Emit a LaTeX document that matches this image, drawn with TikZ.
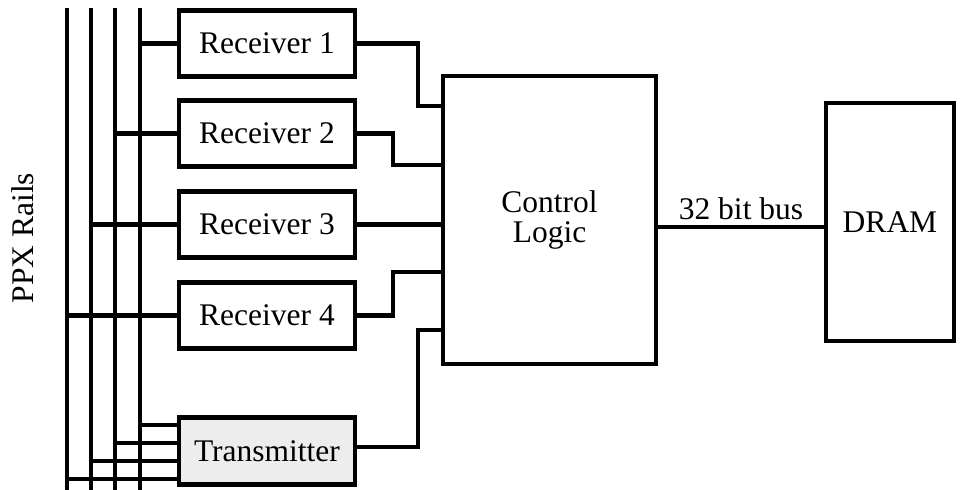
\documentclass[tikz,border=0pt]{standalone}
\usepackage{fontspec}
\setmainfont{Liberation Serif}
\begin{document}
\begin{tikzpicture}[x=1pt,y=-1pt,
  line width=4.5pt,
  lbl/.style={font=\fontsize{31.5}{31}\selectfont},
  box/.style={draw, line width=4.5pt, rectangle, inner sep=0pt, outer sep=0pt, lbl, align=center},
  wire/.style={line width=4.3pt, line cap=rect}
]
\useasboundingbox (0,0) rectangle (962,490);
% rails
\coordinate (r1) at (67,8);
\coordinate (r2) at (91,8);
\coordinate (r3) at (115,8);
\coordinate (r4) at (140,8);
\coordinate (r1b) at (67,492);
\coordinate (r2b) at (91,492);
\coordinate (r3b) at (115,492);
\coordinate (r4b) at (140,492);
\foreach \r in {1,2,3,4}{ \draw[line width=4.5pt] (r\r) -- (r\r b); }
% boxes
\node[box, minimum width=176, minimum height=66] (rx1) at (267,43.5) {Receiver 1};
\node[box, minimum width=176, minimum height=66] (rx2) at (267,133.5) {Receiver 2};
\node[box, minimum width=176, minimum height=66] (rx3) at (267,224.5) {Receiver 3};
\node[box, minimum width=176, minimum height=66] (rx4) at (267,315.5) {Receiver 4};
\node[box, fill=gray!14, minimum width=176, minimum height=67] (tx) at (267,451) {Transmitter};
\node[box, minimum width=213, minimum height=288] (cl) at (549.5,220) {Control\\[-1pt]Logic};
\node[box, minimum width=128, minimum height=238] (dram) at (890,222) {DRAM};
\node[lbl, rotate=90] (ppx) at (23,238) {PPX Rails};
% rail to receivers
\draw[wire] (r4 |- rx1.west) -- (rx1.west);
\draw[wire] (r3 |- rx2.west) -- (rx2.west);
\draw[wire] (r2 |- rx3.west) -- (rx3.west);
\draw[wire] (r1 |- rx4.west) -- (rx4.west);
% rails to transmitter
\coordinate (t4) at (178,425);
\coordinate (t3) at (178,443);
\coordinate (t2) at (178,461);
\coordinate (t1) at (178,479);
\foreach \r in {1,2,3,4}{ \draw[wire] (r\r |- t\r) -- (t\r); }
% receivers to control logic
\coordinate (c1) at (442,106);
\coordinate (c2) at (442,165);
\coordinate (c3) at (442,224.5);
\coordinate (c4) at (442,272);
\coordinate (c5) at (442,330);
\draw[wire] (rx1.east) -| (418,106) -- (c1);
\draw[wire] (rx2.east) -| (393,165) -- (c2);
\draw[wire] (rx3.east) -- (c3);
\draw[wire] (rx4.east) -| (393,272) -- (c4);
\draw[wire] (tx.east |- 0,447) -| (418,330) -- (c5);
% bus
\coordinate (bus) at (0,227);
\draw[wire] (cl.east |- bus) -- node[lbl, above=2pt] (buslbl) {32 bit bus} (dram.west |- bus);
\end{tikzpicture}
\end{document}
